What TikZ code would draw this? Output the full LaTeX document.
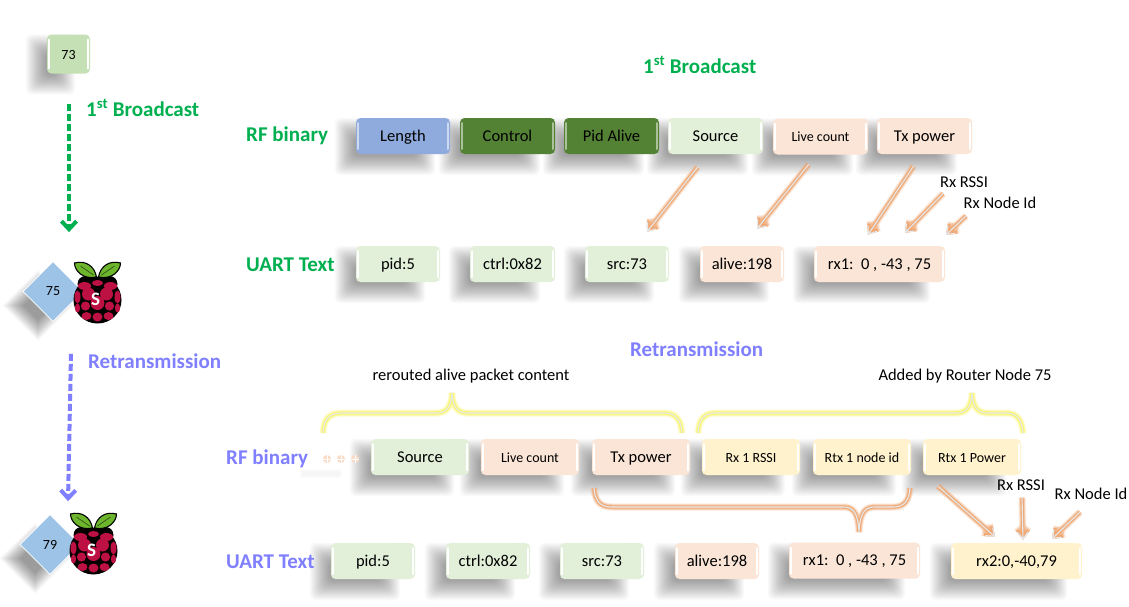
\documentclass[tikz,border=0pt]{standalone}
\usepackage{fontspec}
\setmainfont{Carlito}
\usetikzlibrary{calc,arrows.meta,shapes.geometric,backgrounds}
\definecolor{cgreen}{HTML}{00B050}
\definecolor{cpurple}{HTML}{7F7FFF}
\definecolor{cpgreen}{HTML}{E2F0D9}
\definecolor{cpeach}{HTML}{FBE5D6}
\definecolor{cyell}{HTML}{FFF2CC}
\definecolor{cdgreen}{HTML}{548235}
\definecolor{cblue}{HTML}{8FAADC}
\definecolor{cmid}{HTML}{C5E0B4}
\definecolor{cdia}{HTML}{9DC3E6}
\definecolor{cglow}{HTML}{F0A56E}
\definecolor{cyglow}{HTML}{FBF56E}
\definecolor{ccore}{HTML}{E4E9EE}
\definecolor{berry}{HTML}{BC1142}
\definecolor{leaf}{HTML}{6CB52D}
\tikzset{
  pkt/.style={rounded corners=4.5pt,inner sep=0pt,minimum height=36pt,font=\fontsize{16.5}{18}\selectfont,text=black,text height=10.5pt,text depth=.5pt,
    path picture={
      \draw[#1,line width=2pt,line cap=round]
        ([xshift=1.8pt,yshift=-5pt]path picture bounding box.north west)--([xshift=1.8pt,yshift=5pt]path picture bounding box.south west)
        ([xshift=-1.8pt,yshift=-5pt]path picture bounding box.north east)--([xshift=-1.8pt,yshift=5pt]path picture bounding box.south east);}},
  pkt/.default=white,
  small/.style={font=\fontsize{14}{16}\selectfont},
  head/.style={font=\bfseries\fontsize{21}{24}\selectfont,inner sep=0pt},
  note/.style={font=\fontsize{16.5}{18}\selectfont,text=black,inner sep=0pt},
  glowline/.style={draw=ccore,line width=1.1pt,line cap=round,line join=round,
    preaction={draw=#1,line width=7.5pt,opacity=.18},
    preaction={draw=#1,line width=5.5pt,opacity=.45},
    preaction={draw=#1,line width=3.4pt,opacity=.85}},
  glowarrow/.style={glowline=cglow,-{Straight Barb[length=7pt,width=11pt]}},
  bcast/.style={draw=#1,line width=4pt,dash pattern=on 7pt off 3pt,-{Straight Barb[length=8pt,width=15pt]}},
  dotmark/.style={circle,fill=cpeach!85!cglow,inner sep=0pt,minimum size=8pt,
    path picture={\draw[white,line width=1pt]
      (path picture bounding box.north)--(path picture bounding box.south)
      (path picture bounding box.west)--(path picture bounding box.east);}},
  pics/raspi/.style={code={
    \fill[black] (0,0) ellipse (24 and 23.5);
    \fill[black] (-12,-16) circle (8);
    \fill[black] (12,-16) circle (8);
    \fill[berry] (0,-17) ellipse (5.5 and 3);
    \fill[berry] (-13,-14) ellipse (6.5 and 4);
    \fill[berry] (13,-14) ellipse (6.5 and 4);
    \fill[berry] (-20,-3) ellipse (3 and 6.5);
    \fill[berry] (20,-3) ellipse (3 and 6.5);
    \fill[berry] (-9,-6) circle (6.5);
    \fill[berry] (9,-6) circle (6.5);
    \fill[berry] (0,3) circle (7);
    \fill[berry] (-12,6) circle (4.6);
    \fill[berry] (12,6) circle (4.6);
    \fill[berry] (-20,8) ellipse (2.6 and 4.5);
    \fill[berry] (20,8) ellipse (2.6 and 4.5);
    \fill[berry] (-11,16) ellipse (5 and 4);
    \fill[berry] (11,16) ellipse (5 and 4);
    \fill[berry] (0,17) ellipse (5 and 4.5);
    \filldraw[fill=leaf,draw=black,line width=1.1pt] (-1,-23) .. controls (-3,-34) and (-12,-40) .. (-23,-37) .. controls (-23,-29) and (-14,-20) .. (-1,-23) -- cycle;
    \filldraw[fill=leaf,draw=black,line width=1.1pt] (1,-23) .. controls (3,-34) and (12,-40) .. (23,-37) .. controls (23,-29) and (14,-20) .. (1,-23) -- cycle;
    \draw[black!60!leaf,line width=.6pt] (-4,-25)--(-17,-34) (4,-25)--(17,-34);
    \node[text=white,font=\bfseries\fontsize{19}{20}\selectfont,inner sep=0pt] at (-2,-1) {S};
  }}
}
\newcommand{\softshadow}[1]{%
  \foreach \d in {-5,-4,...,14}{%
    \fill[black,opacity=.021,rounded corners=6pt]
      ($(#1.north west)+(-16+\d,5+\d)$) rectangle ($(#1.south east)+(-20-\d,16-\d)$);}}
\newcommand{\diashadow}[1]{%
  \foreach \d in {5,4,...,-16}{%
    \fill[black,opacity=.02]
      ($(#1.north)+(-15,14-\d)$) -- ($(#1.east)+(-15+\d,14)$) -- ($(#1.south)+(-15,14+\d)$) -- ($(#1.west)+(-15-\d,14)$) -- cycle;}}
\begin{document}
\begin{tikzpicture}[x=1pt,y=-1pt]
\useasboundingbox (0,0) rectangle (1129,606);

% left column
\node[pkt,fill=cmid,minimum width=43pt,minimum height=39pt,small] (n73) at (68.5,54) {73};
\node[diamond,aspect=1,fill=cdia,draw=white,line width=.8pt,minimum size=60pt,inner sep=0pt,small] (d75) at (53,291.5) {75};
\node[diamond,aspect=1,fill=cdia,draw=white,line width=.8pt,minimum size=60pt,inner sep=0pt,small] (d79) at (50,544.5) {79};
\pic at (97.5,300) {raspi};
\pic at (93.5,551) {raspi};
\draw[bcast=cgreen] ($(n73.south)+(.5,30)$) -- ($(d75.north)+(16,-29)$);
\draw[bcast=cpurple] ($(d75.south)+(18,32)$) -- ($(d79.north)+(18,-13)$);
\node[head,text=cgreen,anchor=west] (lb1) at (86,108) {1\textsuperscript{st} Broadcast};
\node[head,text=cpurple,anchor=west] (lr1) at (88,361) {Retransmission};

% headings
\node[head,text=cgreen,anchor=west] (tb1) at (643,65) {1\textsuperscript{st} Broadcast};
\node[head,text=cpurple,anchor=west] (tr1) at (630,349) {Retransmission};
\node[head,text=cgreen,anchor=west] (rf1) at (246,135.5) {RF binary};
\node[head,text=cgreen,anchor=west] (ua1) at (246,265) {UART Text};
\node[head,text=cpurple,anchor=west] (rf2) at (226,458.5) {RF binary};
\node[head,text=cpurple,anchor=west] (ua2) at (226,562) {UART Text};

% row 1
\node[pkt=cblue!45!white,fill=cblue,minimum width=94pt] (len) at (403,136) {Length};
\node[pkt=cdgreen!50!white,fill=cdgreen,minimum width=95pt] (ctl) at (507.5,136) {Control};
\node[pkt=cdgreen!50!white,fill=cdgreen,minimum width=95pt] (pid) at (611.5,136) {Pid Alive};
\node[pkt,fill=cpgreen,minimum width=95pt] (srcA) at (715.5,136) {Source};
\node[pkt,fill=cpeach,minimum width=95pt,small] (liveA) at (820.5,136.5) {Live count};
\node[pkt,fill=cpeach,minimum width=95pt] (txA) at (924.5,136) {Tx power};

% row 2
\node[pkt,fill=cpgreen,minimum width=84pt] (u1a) at (398,264) {pid:5};
\node[pkt,fill=cpgreen,minimum width=85pt] (u1b) at (512.5,264) {ctrl:0x82};
\node[pkt,fill=cpgreen,minimum width=84pt] (u1c) at (627,264) {src:73};
\node[pkt,fill=cpeach,minimum width=84pt] (u1d) at (742,264) {alive:198};
\node[pkt,fill=cpeach,minimum width=131pt] (u1e) at (879.5,264) {rx1:\ \ 0 , -43 , 75};
\node[note] (rs1) at (964,182) {Rx RSSI};
\node[note] (ni1) at (1000,203) {Rx Node Id};

% row 3
\node[pkt,fill=cpgreen,minimum width=98pt] (srcB) at (420,457) {Source};
\node[pkt,fill=cpeach,minimum width=98pt,small] (liveB) at (530,457) {Live count};
\node[pkt,fill=cpeach,minimum width=98pt] (txB) at (641,457) {Tx power};
\node[pkt,fill=cyell,minimum width=98pt,small] (rxr) at (751,457) {Rx 1 RSSI};
\node[pkt,fill=cyell,minimum width=98pt,small] (rtn) at (862,457) {Rtx 1 node id};
\node[pkt,fill=cyell,minimum width=98pt,small] (rtp) at (972,457) {Rtx 1 Power};

% row 4
\node[pkt,fill=cpgreen,minimum width=84pt] (u2a) at (373,561) {pid:5};
\node[pkt,fill=cpgreen,minimum width=84pt] (u2b) at (488,561) {ctrl:0x82};
\node[pkt,fill=cpgreen,minimum width=84pt] (u2c) at (602,561) {src:73};
\node[pkt,fill=cpeach,minimum width=84pt] (u2d) at (717,561) {alive:198};
\node[pkt,fill=cpeach,minimum width=131pt] (u2e) at (854.5,560.5) {rx1:\ \ 0 , -43 , 75};
\node[pkt,fill=cyell,minimum width=131pt] (u2f) at (1016.5,561) {rx2:0,-40,79};
\node[note] (rs2) at (1021,485) {Rx RSSI};
\node[note] (ni2) at (1091,494) {Rx Node Id};
\node[note] (rer) at (471,376) {rerouted alive packet content};
\node[note] (add) at (965,376) {Added by Router Node 75};

% shadows
\begin{pgfonlayer}{background}
\fill[white] (0,0) rectangle (1129,606);
\foreach \n in {n73,len,ctl,pid,srcA,liveA,txA,u1a,u1b,u1c,u1d,u1e,srcB,liveB,txB,rxr,rtn,rtp,u2a,u2b,u2c,u2d,u2e,u2f}{\softshadow{\n}}
\diashadow{d75}
\diashadow{d79}
\foreach \d in {0,1,2}{\fill[black,opacity=.012,rounded corners=2pt] (300+\d,469+\d) rectangle (342-\d,478-\d);}
\end{pgfonlayer}

% dots
\node[dotmark] (dt1) at (327,459) {};
\node[dotmark] (dt2) at (341,459) {};
\node[dotmark] (dt3) at (355,459) {};

% connectors upper
\draw[glowarrow] ($(srcA.south)+(-18,13)$) -- ($(u1c.north)+(20,-14)$);
\draw[glowarrow] ($(liveA.south)+(-12,10)$) -- ($(u1d.north)+(15,-17)$);
\draw[glowarrow] ($(txA.south)+(-11,12)$) -- ($(u1e.north)+(-11.5,-11)$);
\draw[glowarrow] ($(rs1.south)+(-21,6)$) -- ($(u1e.north)+(25.5,-13)$);
\draw[glowarrow] ($(ni1.south)+(-34,7)$) -- ($(u1e.north)+(66.5,-11)$);
% connectors lower
\draw[glowarrow] ($(rtp.south)+(-34,11)$) -- ($(u2f.north)+(-21.5,-6)$);
\draw[glowarrow] ($(rs2.south)+(1,7)$) -- ($(u2f.north)+(6.5,-3)$);
\draw[glowarrow] ($(ni2.south)+(-11,12)$) -- ($(u2f.north)+(35.5,-4)$);

% braces
\draw[glowline=cyglow] (323,433) .. controls (324,420) and (328,413) .. (342,413) -- (436,413) .. controls (446,413) and (451,408) .. (452,393) .. controls (453,408) and (458,413) .. (468,413) -- (664,413) .. controls (676,413) and (681,420) .. (682,433);
\draw[glowline=cyglow] (698,433) .. controls (699,420) and (703,413) .. (717,413) -- (956,413) .. controls (966,413) and (971,408) .. (972,393) .. controls (973,408) and (978,413) .. (988,413) -- (1006,413) .. controls (1017,413) and (1022,420) .. (1023,433);
\draw[glowline=cglow] (594,488) .. controls (595,500) and (599,507) .. (612,507) -- (843,507) .. controls (853,507) and (858,512) .. (859,532) .. controls (860,512) and (865,507) .. (875,507) -- (893,507) .. controls (905,507) and (909,500) .. (910,488);
\end{tikzpicture}
\end{document}
